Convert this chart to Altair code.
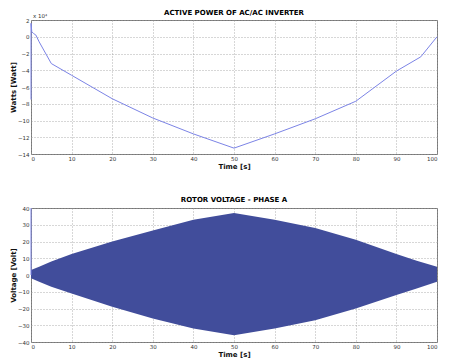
import altair as alt
import pandas as pd

# ---- data ----
time_p = [0, 0, 0.2, 0.6, 1.2, 2, 5, 10, 20, 30, 40, 50, 60, 70, 80, 90, 96, 100]
power = [-7.5, 1.6, 0.6, 0.4, 0.2, -0.6, -3.2, -4.6, -7.4, -9.7, -11.6, -13.3, -11.6, -9.8, -7.7, -4.1, -2.4, 0.0]

time_v = [0, 2, 5, 10, 20, 30, 40, 50, 60, 70, 80, 90, 95, 100]
v_upper = [3, 5, 8, 12.5, 20, 26.5, 33, 37, 33, 28, 21, 12.5, 8.5, 5]
v_lower = [-2, -4, -7, -11, -19, -26, -32, -36, -32, -27, -20, -12, -8, -4]

spike_t = [0, 0]
spike_v = [40, 0]

x_ticks = list(range(0, 101, 10))
p_ticks = list(range(-14, 3, 2))
v_ticks = list(range(-40, 41, 10))

font = "DejaVu Sans"
line_blue = "#7c84e6"
fill_blue = "#414d9b"

W, H = 406, 134

def x_enc(field):
    return alt.X(field, type="quantitative",
                 scale=alt.Scale(domain=[0, 100], nice=False, zero=False),
                 axis=alt.Axis(title="Time [s]", values=x_ticks, labelFlush=True))

def v_enc(field):
    return alt.Y(field, type="quantitative",
                 scale=alt.Scale(domain=[-40, 40], nice=False),
                 axis=alt.Axis(title="Voltage [Volt]", values=v_ticks, labelOverlap=False))

# ---- top panel ----
top_df = pd.DataFrame({"t": time_p, "p": power})
top_line = alt.Chart(top_df).mark_line(color=line_blue, strokeWidth=1).encode(
    x=x_enc("t"),
    y=alt.Y("p:Q", scale=alt.Scale(domain=[-14, 2], nice=False),
            axis=alt.Axis(title="Watts [Watt]", values=p_ticks, labelOverlap=False)),
    order="idx:Q",
).transform_window(idx="row_number()")

exp_txt = alt.Chart(pd.DataFrame({"a": [0]})).mark_text(
    text="x 10⁴", font=font, fontSize=5.5, align="left", baseline="bottom", color="#333"
).encode(x=alt.value(2), y=alt.value(-1))

top = alt.layer(top_line, exp_txt).properties(
    width=W, height=H,
    title=alt.TitleParams("ACTIVE POWER OF AC/AC INVERTER", fontSize=7, font=font,
                          fontWeight="bold", offset=-2),
)

# ---- bottom panel ----
env_df = pd.DataFrame({"t": time_v, "hi": v_upper, "lo": v_lower})
band = alt.Chart(env_df).mark_area(color=fill_blue, opacity=1, line=False).encode(
    x=x_enc("t"),
    y=v_enc("hi"),
    y2="lo:Q",
)
spike_df = pd.DataFrame({"t": spike_t, "v": spike_v})
spike = alt.Chart(spike_df).mark_line(color=line_blue, strokeWidth=1).encode(
    x=x_enc("t"), y=v_enc("v"))

bottom = alt.layer(band, spike).properties(
    width=W, height=H,
    title=alt.TitleParams("ROTOR VOLTAGE - PHASE A", fontSize=7, font=font,
                          fontWeight="bold", offset=3),
)

chart = alt.vconcat(top, bottom, spacing=25).configure(
    padding={"left": 0, "top": 0, "right": 0, "bottom": 0},
    background="white",
).configure_view(
    stroke="#777", strokeWidth=1,
).configure_axis(
    grid=True, gridColor="#999", gridDash=[1, 2], gridWidth=0.8,
    domain=False, ticks=False,
    labelFont=font, labelFontSize=5.5, labelColor="#333", labelPadding=2,
    titleFont=font, titleFontSize=7, titleFontWeight="bold", titleColor="#111",
    titlePadding=1,
)

chart.save("out.html", embed_options={"renderer": "svg", "actions": False})
